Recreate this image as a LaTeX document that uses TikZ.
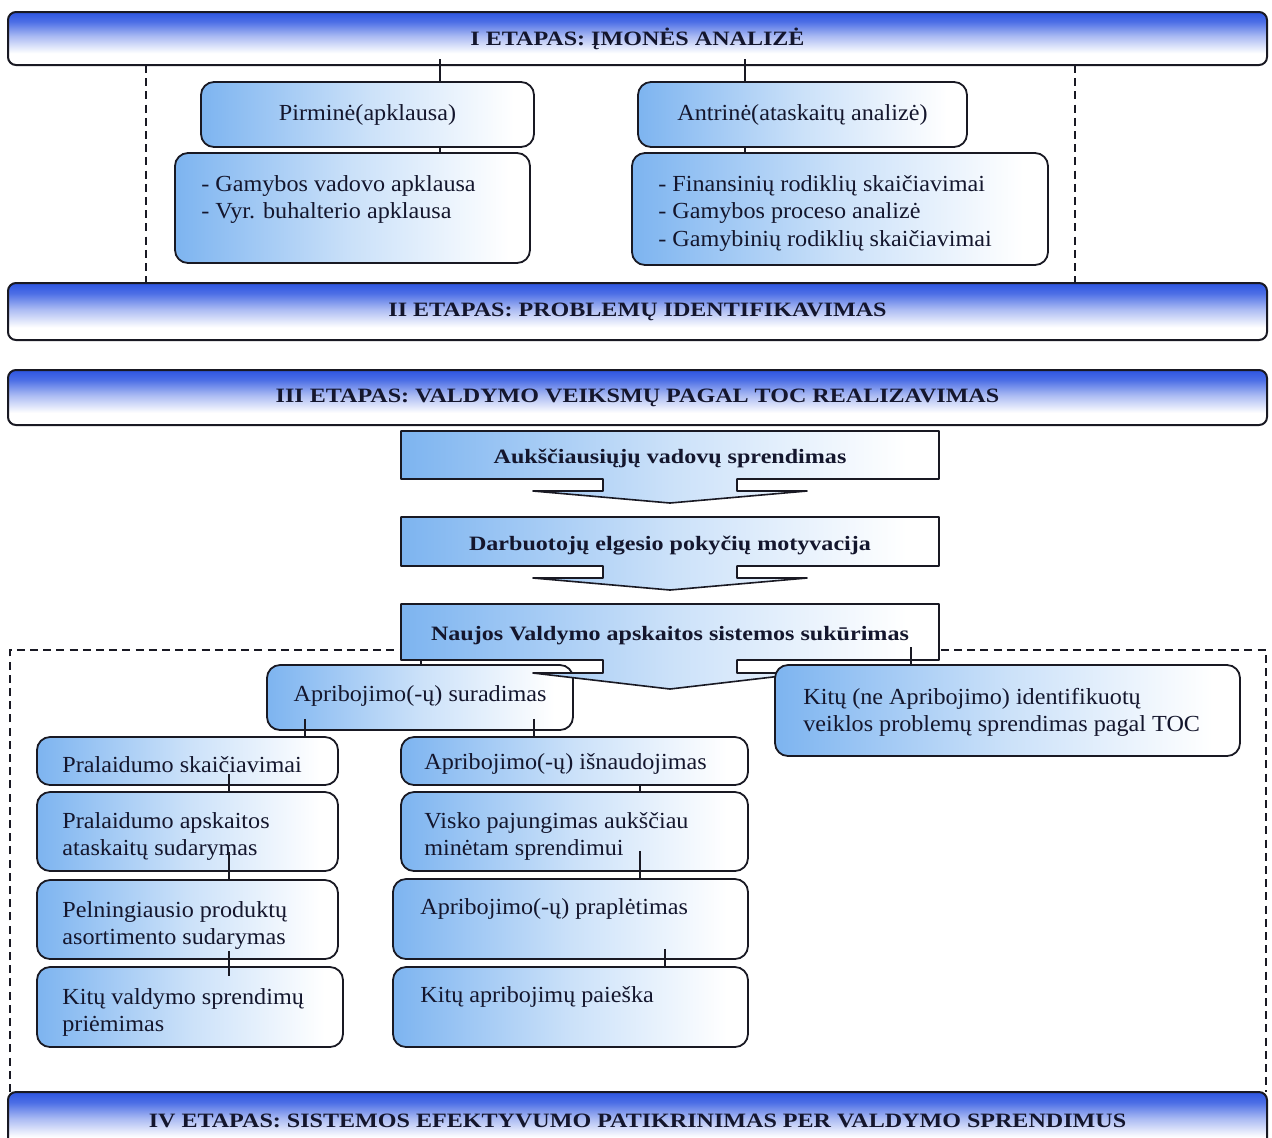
\documentclass[tikz,border=0pt]{standalone}
\usepackage{fontspec}
\setmainfont{Liberation Serif}
\newfontfamily\txtfont{Liberation Serif}[FakeStretch=1.05]
\newfontfamily\bnfont{Liberation Serif}[FakeStretch=1.18]
\usetikzlibrary{calc}
\definecolor{bannerblue}{RGB}{45,85,225}
\definecolor{boxblue}{RGB}{125,180,240}
\definecolor{edge}{RGB}{25,25,35}
\definecolor{ink}{RGB}{20,22,45}
\pgfdeclareverticalshading{bannershade}{100bp}{color(0bp)=(white); color(25bp)=(white); color(36bp)=(white); color(52bp)=(bannerblue!40!white); color(66bp)=(bannerblue!85!white); color(75bp)=(bannerblue); color(100bp)=(bannerblue)}
\pgfdeclarehorizontalshading{boxshade}{100bp}{color(0bp)=(boxblue); color(25bp)=(boxblue); color(50bp)=(boxblue!40!white); color(72bp)=(white); color(100bp)=(white)}
% box from corner (x1,y1) to (x2,y2), in pixel units
\newcommand\bx[6][]{\node[#1, minimum width={(#4-#2)*0.5}, minimum height={(#5-#3)*0.5}] (#6) at ({(#2+#4)/2},{(#3+#5)/2})}
% stage box with a down block arrow: x1 y1 x2 y2 headdy tipdy name text
\newcommand\stagebox[8]{%
  \path[sshape] (#1,#2) -- (#3,#2) -- (#3,#4) -- (737,#4) -- (737,#4+#5) -- (807,#4+#5) -- (670,#4+#6) -- (533,#4+#5) -- (603,#4+#5) -- (603,#4) -- (#1,#4) -- cycle;
  \bx[stext]{#1}{#2}{#3}{#4}{#7} {#8};
}
\begin{document}
\begin{tikzpicture}[x=0.5pt,y=-0.5pt,
  banner/.style={draw=edge, line width=1pt, rounded corners=4pt, shade, shading=bannershade, inner sep=0pt, text=ink,
    font=\bnfont\bfseries\fontsize{10.2}{12}\selectfont},
  rbox/.style={draw=edge, line width=0.9pt, rounded corners=6.5pt, shade, shading=boxshade, inner sep=0pt, text=ink,
    font=\txtfont\fontsize{11.5}{13.8}\selectfont},
  ltext/.style={inner sep=0pt, align=left, anchor=west, yshift=-1.2pt, text=ink, font=\txtfont\fontsize{11.5}{13.8}\selectfont},
  stext/.style={inner sep=0pt, text height=8.5pt, text depth=0pt, text=ink, font=\bnfont\bfseries\fontsize{10.2}{12}\selectfont},
  sshape/.style={draw=edge, line width=0.8pt, line join=round, shade, shading=boxshade},
  conn/.style={draw=edge, line width=0.6pt},
  dashline/.style={draw=edge, line width=1.1pt, dash pattern=on 4pt off 2.6pt}]
\fill[white] (0,0) rectangle (1272,1137);
\clip (0,0) rectangle (1272,1137);

% dashed frames
\draw[dashline] (146,65) -- (146,283);
\draw[dashline] (1075,65) -- (1075,283);
\draw[dashline] (10,1092) -- (10,650) -- (1266,650) -- (1266,1092);

% stage banners
\bx[banner]{8}{12}{1267}{65}{b1} {I ETAPAS: ĮMONĖS ANALIZĖ};
\bx[banner]{8}{283}{1267}{340}{b2} {II ETAPAS: PROBLEMŲ IDENTIFIKAVIMAS};
\bx[banner]{8}{370}{1267}{425}{b3} {III ETAPAS: VALDYMO VEIKSMŲ PAGAL TOC REALIZAVIMAS};
\bx[banner]{8}{1092}{1267}{1150}{b4} {IV ETAPAS: SISTEMOS EFEKTYVUMO PATIKRINIMAS PER VALDYMO SPRENDIMUS};

% stage I
\bx[rbox]{201}{82}{534}{147}{P1} {Pirminė(apklausa)};
\bx[rbox]{175}{153}{530}{263}{P1s} {};
\node[ltext] (tP1s) at (201,197) {- Gamybos vadovo apklausa\\- Vyr. buhalterio apklausa};
\bx[rbox]{638}{82}{967}{147}{A1} {Antrinė(ataskaitų analizė)};
\bx[rbox]{632}{153}{1048}{265}{A1s} {};
\node[ltext] (tA1s) at (658,211) {- Finansinių rodiklių skaičiavimai\\- Gamybos proceso analizė\\- Gamybinių rodiklių skaičiavimai};

% stage III
\stagebox{401}{431}{939}{479}{12}{24}{S1}{Aukščiausiųjų vadovų sprendimas}
\stagebox{401}{517}{939}{566}{12}{24}{S2}{Darbuotojų elgesio pokyčių motyvacija}
\bx[rbox, text height=3.5pt, text depth=0pt]{267}{665}{573}{730}{Sur} {Apribojimo(-ų) suradimas};
\stagebox{401}{604}{939}{660}{13}{29}{S3}{Naujos Valdymo apskaitos sistemos sukūrimas}
\bx[rbox]{775}{665}{1240}{756}{K1} {};
\node[ltext] (tK1) at (803,710) {Kitų (ne Apribojimo) identifikuotų\\veiklos problemų sprendimas pagal TOC};

\bx[rbox]{37}{737}{338}{785}{L1} {};
\node[ltext] (tL1) at (62,762) {Pralaidumo skaičiavimai};
\bx[rbox]{37}{792}{338}{871}{L2} {};
\node[ltext] (tL2) at (62,834) {Pralaidumo apskaitos\\ataskaitų sudarymas};
\bx[rbox]{37}{880}{338}{959}{L3} {};
\node[ltext] (tL3) at (62,923) {Pelningiausio produktų\\asortimento sudarymas};
\bx[rbox]{37}{967}{343}{1047}{L4} {};
\node[ltext] (tL4) at (62,1010) {Kitų valdymo sprendimų\\priėmimas};

\bx[rbox]{401}{737}{748}{785}{R1} {};
\node[ltext] (tR1) at (424,762) {Apribojimo(-ų) išnaudojimas};
\bx[rbox]{401}{792}{748}{871}{R2} {};
\node[ltext] (tR2) at (424,834) {Visko pajungimas aukščiau\\minėtam sprendimui};
\bx[rbox]{393}{879}{748}{959}{R3} {};
\node[ltext] (tR3) at (420,907) {Apribojimo(-ų) praplėtimas};
\bx[rbox]{393}{967}{748}{1047}{R4} {};
\node[ltext] (tR4) at (420,995) {Kitų apribojimų paieška};

% connectors
\coordinate (c440) at (440,0);
\coordinate (c745) at (745,0);
\coordinate (c421) at (421,0);
\coordinate (c911) at (911,0);
\coordinate (c305) at (305,0);
\coordinate (c534) at (534,0);
\coordinate (c229) at (229,0);
\coordinate (c640) at (640,0);
\coordinate (c665) at (665,0);
\draw[conn] ($(b1.south -| c440)+(0,-7)$) -- (P1.north -| c440);
\draw[conn] (P1.south -| c440) -- (P1s.north -| c440);
\draw[conn] ($(b1.south -| c745)+(0,-7)$) -- (A1.north -| c745);
\draw[conn] (A1.south -| c745) -- (A1s.north -| c745);
\draw[conn] (S3.south -| c421) -- (Sur.north -| c421);
\draw[conn] ($(S3.south -| c911)+(0,-13)$) -- (K1.north -| c911);
\draw[conn] ($(Sur.south -| c305)+(0,-12)$) -- (L1.north -| c305);
\draw[conn] ($(Sur.south -| c534)+(0,-12)$) -- (R1.north -| c534);
\draw[conn] ($(L1.south -| c229)+(0,-12)$) -- (L2.north -| c229);
\draw[conn] ($(L2.south -| c229)+(0,-20)$) -- (L3.north -| c229);
\draw[conn] ($(L3.south -| c229)+(0,-9)$) -- ($(L4.north -| c229)+(0,10)$);
\draw[conn] (R1.south -| c640) -- (R2.north -| c640);
\draw[conn] ($(R2.south -| c640)+(0,-21)$) -- (R3.north -| c640);
\draw[conn] ($(R3.south -| c665)+(0,-11)$) -- (R4.north -| c665);
\end{tikzpicture}
\end{document}
